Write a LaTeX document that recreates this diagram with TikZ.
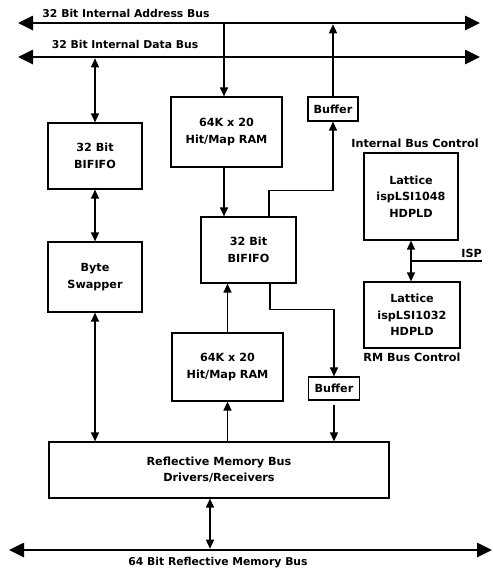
\documentclass[tikz,border=0pt]{standalone}
\usepackage{fontspec}
\setmainfont{DejaVu Sans}
\usetikzlibrary{arrows.meta}
\begin{document}
\begin{tikzpicture}[x=1pt,y=-1pt,
  lbl/.style={font=\bfseries\fontsize{11.2}{16.5}\selectfont, inner sep=0pt, align=center},
  box/.style={lbl, draw, line width=1.2pt},
  bus/.style={line width=2.6pt, {Triangle[length=15pt,width=14pt]}-{Triangle[length=15pt,width=14pt]}},
  arr/.style={line width=1.3pt, -{Triangle[length=9pt,width=8pt]}},
  darr/.style={line width=1.3pt, {Triangle[length=9pt,width=8pt]}-{Triangle[length=9pt,width=8pt]}},
  wire/.style={line width=1.2pt}]
\useasboundingbox (0,0) rectangle (493,574);
% buses
\coordinate (abL) at (18,23);  \coordinate (abR) at (480,23);
\coordinate (dbL) at (18,57);  \coordinate (dbR) at (480,57);
\coordinate (rbL) at (9,550);  \coordinate (rbR) at (492,550);
\draw[bus] (abL) -- (abR);
\draw[bus] (dbL) -- (dbR);
\draw[bus] (rbL) -- (rbR);
\node[lbl, font=\bfseries\fontsize{10.8}{16.5}\selectfont] (abT) at (126,13) {32 Bit Internal Address Bus};
\node[lbl, font=\bfseries\fontsize{10.8}{16.5}\selectfont] (dbT) at (125,44) {32 Bit Internal Data Bus};
\node[lbl, font=\bfseries\fontsize{10.8}{16.5}\selectfont] (rbT) at (218,563) {64 Bit Reflective Memory Bus};
% boxes
\node[box, minimum width=94pt, minimum height=66pt] (bif1) at (95,156) {32 Bit\\BIFIFO};
\node[box, minimum width=94pt, minimum height=70pt] (swap) at (95,277) {Byte\\Swapper};
\node[box, minimum width=111pt, minimum height=70pt] (ram1) at (226.5,132) {64K x 20\\Hit/Map RAM};
\node[box, minimum width=95pt, minimum height=66pt] (bif2) at (248.5,250) {32 Bit\\BIFIFO};
\node[box, minimum width=111pt, minimum height=68pt] (ram2) at (227.5,367) {64K x 20\\Hit/Map RAM};
\node[box, minimum width=50pt, minimum height=24pt] (buf1) at (333,109) {Buffer};
\node[box, minimum width=51pt, minimum height=23pt] (buf2) at (334,388.5) {Buffer};
\node[box, minimum width=340pt, minimum height=56pt] (refl) at (219,470) {Reflective Memory Bus\\Drivers/Receivers};
\node[box, minimum width=94pt, minimum height=87pt] (lat1) at (411,196.5) {Lattice\\ispLSI1048\\HDPLD};
\node[box, minimum width=96pt, minimum height=66pt] (lat2) at (412,315) {Lattice\\ispLSI1032\\HDPLD};
\node[lbl] (ibc) at (415,143) {Internal Bus Control};
\node[lbl] (rmc) at (412,357) {RM Bus Control};
\coordinate (isp) at (482,261);
\node[lbl, anchor=south east] (ispT) at ([yshift=3]isp) {ISP};
% connectors
\draw[darr, shorten <=1.3pt] (bif1.north |- dbL) -- (bif1.north);
\draw[darr] (bif1.south) -- (swap.north);
\draw[darr] (swap.south) -- (swap.south |- refl.north);
\draw[arr, shorten <=1.3pt] ([xshift=-2.5]ram1.north |- abL) -- ([xshift=-2.5]ram1.north);
\draw[arr] ([xshift=-2.5]ram1.south) -- ([xshift=-2.5]ram1.south |- bif2.north);
\draw[arr] (ram2.north) -- (ram2.north |- bif2.south);
\draw[arr] (ram2.south |- refl.north) -- (ram2.south);
\draw[arr] ([xshift=20.5]bif2.north) |- ++(0,-26) -| (buf1.south);
\draw[arr, shorten >=1.3pt] (buf1.north) -- (buf1.north |- abL);
\draw[arr] ([xshift=21.5]bif2.south) |- ++(0,26) -| (buf2.north);
\draw[arr, shorten <=4pt] (buf2.south) -- (buf2.south |- refl.north);
\draw[darr, shorten >=1.3pt] ([xshift=-9]refl.south) -- ([xshift=-9]refl.south |- rbL);
\draw[darr] (lat1.south) -- (lat1.south |- lat2.north);
\draw[wire] (isp -| lat1.south) -- (isp);
\end{tikzpicture}
\end{document}
